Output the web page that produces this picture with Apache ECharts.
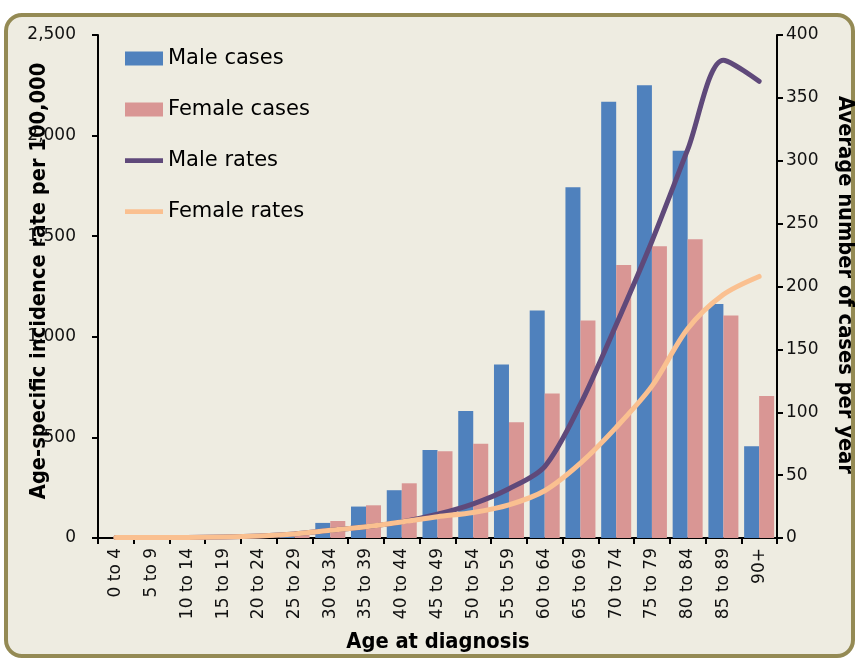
<!DOCTYPE html>
<html>
<head>
<meta charset="utf-8">
<script src="https://cdn.jsdelivr.net/npm/echarts@6/dist/echarts.min.js"></script>
<style>
  html, body { margin: 0; padding: 0; background: #ffffff; }
  #chart { width: 856px; height: 658px; }
</style>
</head>
<body>
<div id="chart"></div>
<script>
// Five-year age bands
const ageGroups = ['0 to 4', '5 to 9', '10 to 14', '15 to 19', '20 to 24', '25 to 29',
  '30 to 34', '35 to 39', '40 to 44', '45 to 49', '50 to 54', '55 to 59', '60 to 64',
  '65 to 69', '70 to 74', '75 to 79', '80 to 84', '85 to 89', '90+'];

// Average number of cases per year (right axis)
const maleCases = [0, 0, 0, 0.3, 0.6, 3.5, 12, 25, 38, 70, 101, 138, 181, 279, 347, 360, 308, 186, 73];
const femaleCases = [0, 0, 0.2, 0.5, 1.2, 5.5, 13.5, 26, 43.5, 69, 75, 92, 115, 173, 217, 232, 237.5, 177, 113];

// Age-specific incidence rate per 100,000 (left axis)
const maleRates = [2, 2, 3, 5, 10, 20, 38, 56, 80, 118, 170, 245, 355, 665, 1060, 1475, 1930, 2375, 2270];
const femaleRates = [2, 2, 3, 5, 10, 20, 38, 56, 80, 106, 127, 165, 235, 372, 550, 755, 1040, 1210, 1300];

// Axis ranges
const rateAxis = { min: 0, max: 2500, interval: 500 };
const caseAxis = { min: 0, max: 400, interval: 50 };

const tickFont = 'DejaVu Sans';
const titleFont = "'DejaVu Sans Condensed', 'Liberation Sans Narrow', sans-serif";
const titleSize = 21.7;

const chart = echarts.init(document.getElementById('chart'), null, { renderer: 'canvas' });

const axisLineStyle = { color: '#000000', width: 2 };

// Thick bar used as the legend icon of the two rate lines
const lineIcon = 'path://M0,0 L40,0 L40,5 L0,5 Z';

function titleText(text, x, y, rotation) {
  return {
    type: 'text',
    z: 50,
    x: x, y: y,
    rotation: rotation,
    style: {
      text: text,
      font: 'bold ' + titleSize + 'px ' + titleFont,
      fill: '#000000',
      align: 'center', verticalAlign: 'middle',
      textAlign: 'center', textVerticalAlign: 'middle'
    }
  };
}

chart.setOption({
  backgroundColor: '#ffffff',
  animation: false,
  graphic: [
    {
      type: 'rect',
      z: -10,
      shape: { x: 6, y: 15, width: 847, height: 641, r: 16 },
      style: { fill: '#EEECE1', stroke: '#948A54', lineWidth: 4 }
    },
    titleText('Age-specific incidence rate per 100,000', 39, 281, Math.PI / 2),
    titleText('Average number of cases per year', 845, 285, -Math.PI / 2),
    titleText('Age at diagnosis', 438, 642, 0)
  ],
  legend: {
    orient: 'vertical',
    left: 120,
    top: 43,
    itemWidth: 38,
    itemHeight: 14,
    itemGap: 30,
    textStyle: { fontFamily: tickFont, fontSize: 21, color: '#000000' },
    data: [
      { name: 'Male cases', icon: 'rect' },
      { name: 'Female cases', icon: 'rect' },
      { name: 'Male rates', icon: lineIcon },
      { name: 'Female rates', icon: lineIcon }
    ]
  },
  grid: { left: 98, right: 79, top: 35, bottom: 120, containLabel: false },
  xAxis: {
    type: 'category',
    data: ageGroups,
    boundaryGap: true,
    axisLine: { lineStyle: axisLineStyle },
    axisTick: { show: true, interval: 0, length: 6, lineStyle: axisLineStyle },
    axisLabel: {
      interval: 0, rotate: 90, margin: 10,
      fontFamily: tickFont, fontSize: 17, color: '#111111'
    },
    splitLine: { show: false }
  },
  yAxis: [
    {
      type: 'value',
      position: 'left',
      min: rateAxis.min, max: rateAxis.max, interval: rateAxis.interval,
      axisLine: { show: true, lineStyle: axisLineStyle },
      axisTick: { show: true, length: 6, lineStyle: axisLineStyle },
      axisLabel: {
        margin: 22, fontFamily: tickFont, fontSize: 17, color: '#111111',
        formatter: v => v.toLocaleString('en-US')
      },
      splitLine: { show: false }
    },
    {
      type: 'value',
      position: 'right',
      min: caseAxis.min, max: caseAxis.max, interval: caseAxis.interval,
      axisLine: { show: true, lineStyle: axisLineStyle },
      axisTick: { show: true, length: 6, lineStyle: axisLineStyle },
      axisLabel: { margin: 9, fontFamily: tickFont, fontSize: 17, color: '#111111' },
      splitLine: { show: false }
    }
  ],
  series: [
    {
      name: 'Male cases',
      type: 'bar',
      yAxisIndex: 1,
      data: maleCases,
      barWidth: 15,
      barGap: '0%',
      itemStyle: { color: '#4F81BD' }
    },
    {
      name: 'Female cases',
      type: 'bar',
      yAxisIndex: 1,
      data: femaleCases,
      barWidth: 15,
      barGap: '0%',
      itemStyle: { color: '#D99694' }
    },
    {
      name: 'Male rates',
      type: 'line',
      yAxisIndex: 0,
      data: maleRates,
      smooth: 0.3,
      symbol: 'none',
      lineStyle: { color: '#5F497A', width: 5, cap: 'round', join: 'round' },
      itemStyle: { color: '#5F497A' }
    },
    {
      name: 'Female rates',
      type: 'line',
      yAxisIndex: 0,
      data: femaleRates,
      smooth: 0.3,
      symbol: 'none',
      lineStyle: { color: '#FAC090', width: 5, cap: 'round', join: 'round' },
      itemStyle: { color: '#FAC090' }
    }
  ]
});
</script>
</body>
</html>
